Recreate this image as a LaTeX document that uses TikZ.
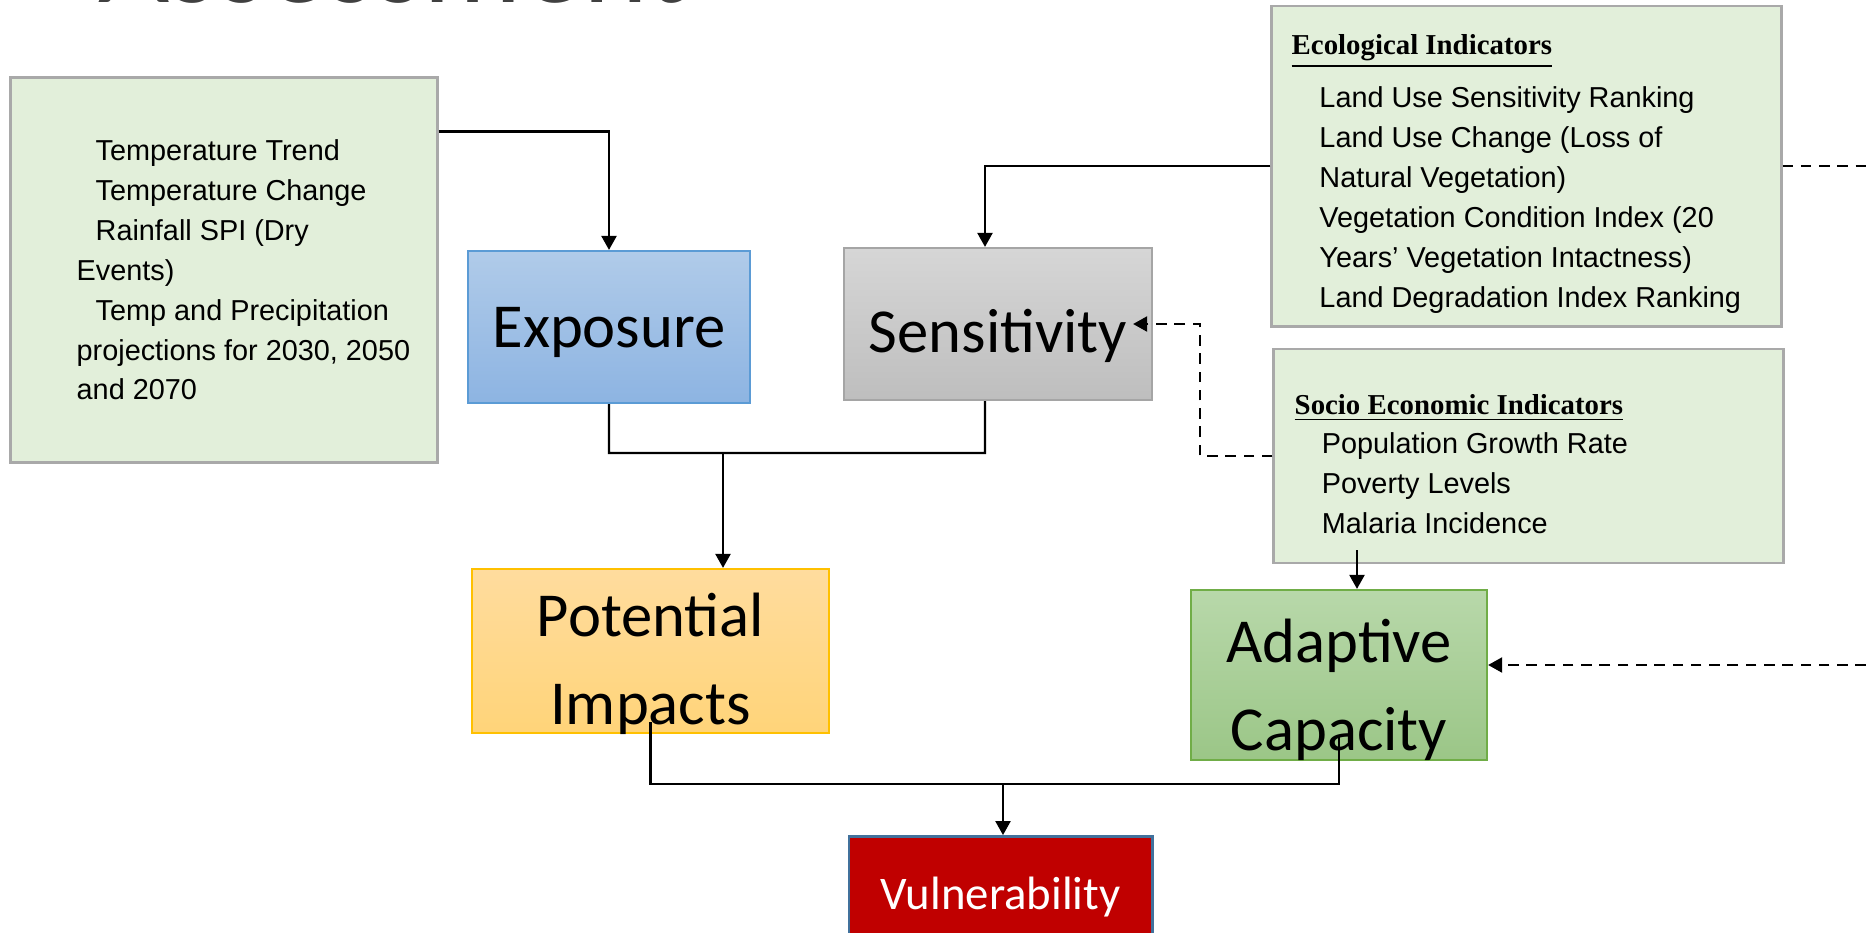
\documentclass[tikz,border=0pt]{standalone}
\usepackage{fontspec}
\setmainfont{Liberation Sans}
\newfontfamily\calibri{Carlito}
\newfontfamily\serifface{Liberation Serif}
\usepackage{tikz}
\usetikzlibrary{arrows.meta}
\usetikzlibrary{positioning}
\definecolor{infofill}{HTML}{E2EFDA}
\definecolor{infoline}{HTML}{A9A9A9}
\definecolor{exptop}{HTML}{B0CBE9}
\definecolor{expbot}{HTML}{8DB4E2}
\definecolor{expline}{HTML}{5B9BD5}
\definecolor{sentop}{HTML}{D6D6D6}
\definecolor{senbot}{HTML}{BEBEBE}
\definecolor{senline}{HTML}{A5A5A5}
\definecolor{pottop}{HTML}{FFDC9E}
\definecolor{potbot}{HTML}{FFD479}
\definecolor{potline}{HTML}{FFC000}
\definecolor{adatop}{HTML}{B8D8AA}
\definecolor{adabot}{HTML}{9BC687}
\definecolor{adaline}{HTML}{70AD47}
\definecolor{vulfill}{HTML}{C00000}
\definecolor{vulline}{HTML}{41719C}
\newcommand{\hdrtext}[1]{{\serifface\bfseries\underline{#1}}}

\begin{document}
\begin{tikzpicture}[x=0.01cm,y=-0.01cm,
	infobox/.style={draw=infoline,line width=0.8pt,fill=infofill},
	txt/.style={inner sep=0pt,align=left,font=\fontsize{8.2}{11.34}\selectfont},
	big/.style={line width=0.6pt,align=center,font=\calibri\fontsize{17.8}{25}\selectfont},
	conn/.style={line width=0.6pt},
	arr/.style={line width=0.6pt,-{Triangle[length=4pt,width=4.3pt]}},
	dsh/.style={line width=0.6pt,dash pattern=on 3pt off 2.2pt},
	darr/.style={dsh,-{Triangle[length=4pt,width=4.3pt]}}]
	\useasboundingbox (0,0) rectangle (1866,933);
	\clip (0,0) rectangle (1866,933);
	\node[anchor=base west,inner sep=0pt,text=black!75,font=\calibri\fontsize{35}{35}\selectfont] (title) at (98,2) {Assessment};
	\node[infobox,minimum width=4.26cm,minimum height=3.84cm] (drv) at (224,270) {};
	\node[infobox,minimum width=5.09cm,minimum height=3.20cm] (eco) at (1526.5,166) {};
	\node[infobox,minimum width=5.09cm,minimum height=2.14cm] (soc) at (1528.5,456) {};
	\node[big,draw=expline,top color=exptop,bottom color=expbot,minimum width=2.82cm,minimum height=1.52cm,text height=15.3pt,text depth=3.4pt] (exp) at (609,327) {Exposure};
	\node[big,draw=senline,top color=sentop,bottom color=senbot,minimum width=3.08cm,minimum height=1.52cm,text height=19.8pt,text depth=3.4pt] (sen) at (998,324) {Sensitivity};
	\node[big,draw=potline,top color=pottop,bottom color=potbot,minimum width=3.57cm,minimum height=1.64cm] (pot) at (650.5,651) {};
	\node[big,draw=adaline,top color=adatop,bottom color=adabot,minimum width=2.96cm,minimum height=1.70cm] (ada) at (1339,675) {};
	\node[big] (pot-l) at ([yshift=-0.13cm]pot.center) {Potential\\Impacts};
	\node[big] (ada-l) at ([yshift=-0.15cm]ada.center) {Adaptive\\Capacity};
	\node[draw=vulline,line width=0.8pt,fill=vulfill,text=white,font=\calibri\fontsize{13.3}{16}\selectfont,minimum width=3.03cm,minimum height=1.21cm] (vul) at (1000.5,897) {Vulnerability};
	\node[txt,anchor=west] (drv-t) at (76,270) {\hspace*{5.4pt}Temperature Trend\\
		\hspace*{5.4pt}Temperature Change\\
		\hspace*{5.4pt}Rainfall SPI (Dry\\
		Events)\\
		\hspace*{5.4pt}Temp and Precipitation\\
		projections for 2030, 2050\\
		and 2070};
	\node[txt,anchor=west] (eco-t) at (1291,174) {\hdrtext{Ecological Indicators}\\[3.7pt]
		\hspace*{7.9pt}Land Use Sensitivity Ranking\\
		\hspace*{7.9pt}Land Use Change (Loss of\\
		\hspace*{7.9pt}Natural Vegetation)\\
		\hspace*{7.9pt}Vegetation Condition Index (20\\
		\hspace*{7.9pt}Years’ Vegetation Intactness)\\
		\hspace*{7.9pt}Land Degradation Index Ranking};
	\node[txt,anchor=west] (soc-t) at (1294,464) {\hdrtext{Socio Economic Indicators}\\
		\hspace*{7.7pt}Population Growth Rate\\
		\hspace*{7.7pt}Poverty Levels\\
		\hspace*{7.7pt}Malaria Incidence};
	\coordinate (eco-out) at (1866,166);
	\coordinate (sen-fb) at (1200,324);
	\coordinate (ada-in) at (1866,665);
	\coordinate (soc-out) at (1357,550);
	\coordinate (exp-sen) at (985,453);
	\coordinate (pot-in) at (723,453);
	\coordinate (pot-ada) at (1003,784);
	\draw[arr] ([yshift=-0.55cm]drv.north east) -| (exp.north);
	\draw[arr] (eco.west) -| ([xshift=-0.13cm]sen.north);
	\draw[dsh] (eco.east) -- (eco-out);
	\draw[darr] (soc.west) -| (sen-fb) -- ([xshift=-0.2cm]sen.east);
	\draw[darr] (ada-in) -- (ada-in -| ada.east);
	\draw[arr] (soc-out) -- (soc-out |- ada.north);
	\draw[conn] (exp.south) |- (exp-sen) -- ([xshift=-0.13cm]sen.south);
	\draw[arr] (pot-in) -- (pot-in |- pot.north);
	\draw[conn] ([yshift=0.12cm]pot.south) |- (pot-ada) -| ([yshift=0.25cm]ada.south);
	\draw[arr] (pot-ada) -- (pot-ada |- vul.north);
\end{tikzpicture}
\end{document}
